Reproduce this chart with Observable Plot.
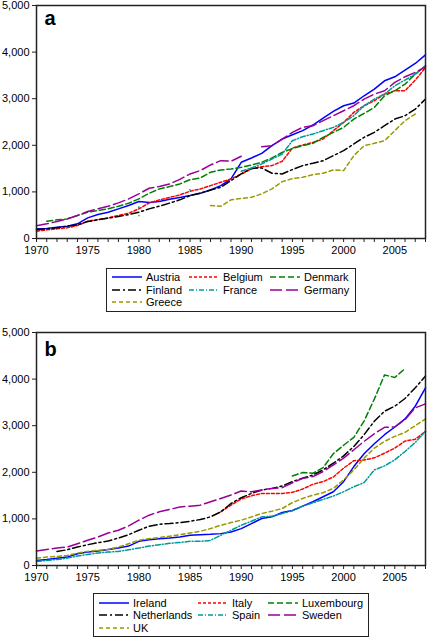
<!DOCTYPE html>
<html><head><meta charset="utf-8">
<script src="https://cdn.jsdelivr.net/npm/d3@7"></script>
<script src="https://cdn.jsdelivr.net/npm/@observablehq/plot@0.6"></script>
<style>
body{margin:0;background:#fff;font-family:"Liberation Sans",Arial,sans-serif;}
#wrap{position:relative;width:427px;height:637px;overflow:hidden;background:#fff}
#wrap svg.plot{position:absolute;left:0}
.legend{position:absolute;box-sizing:border-box;border:1px solid #222;background:#fff;font-size:11px;color:#000}
.item{position:absolute;height:12px;display:flex;align-items:center;white-space:nowrap}
.item span{margin-left:4px}
</style></head><body><div id="wrap"></div><script>
const years = d3.range(1970, 2009);
const xTickLabels = [1970, 1975, 1980, 1985, 1990, 1995, 2000, 2005];
const yTicks = [0, 1000, 2000, 3000, 4000, 5000];

// Panel a
const namesA = ["Austria", "Belgium", "Denmark", "Finland", "France", "Germany", "Greece"];
const austria = [207,215,243,264,315,443,514,564,636,707, 793,771,793,840,880,921,971,1042,1135,1278, 1635,1728,1828,1992,2135,2225,2314,2435,2585,2727, 2849,2906,3063,3206,3384,3470,3613,3756,3941];
const belgium = [157,186,207,229,279,371,407,443,493,543, 636,764,829,880,935,1014,1064,1135,1207,1278, 1385,1492,1542,1564,1657,1942,2006,2063,2135,2314, 2492,2706,2849,2956,3099,3170,3170,3399,3670];
const denmark = [null,371,400,421,493,564,600,636,693,757, 850,971,1064,1114,1171,1264,1300,1421,1471,1492, 1528,1578,1635,1728,1849,1930,1992,2042,2171,2278, 2385,2563,2685,2813,3063,3170,3313,3527,3706];
const finland = [186,207,229,264,293,364,400,436,471,514, 564,636,693,760,830,921,971,1042,1100,1242, 1385,1507,1514,1400,1385,1480,1564,1614,1671,1778, 1885,2028,2171,2278,2420,2563,2635,2777,2992];
const france  = [null,null,null,null,null,null,null,null,null,null, 671,null,null,null,null,1042,null,null,null,null, 1442,1514,1600,1707,1814,2099,2185,2242,2314,2385, 2492,2635,2849,2992,3099,3277,3399,3527,3706];
const germany = [272,315,364,421,493,578,636,693,764,850, 957,1078,1114,1171,1270,1385,1457,1578,1671,1657, 1764,null,1971,1992,2135,2278,2385,2420,2528,2635, 2742,2849,2992,3099,3170,3349,3470,3563,3684];
const greece  = [null,null,null,null,null,null,null,null,null,null, 493,null,null,null,null,null,null,707,690,830, 860,885,957,1064,1221,1285,1314,1371,1400,1471, 1457,1778,1992,2042,2099,2314,2528,2670,null];

// Panel b
const namesB = ["Ireland", "Italy", "Luxembourg", "Netherlands", "Spain", "Sweden", "UK"];
const ireland = [108,130,158,180,252,288,309,345,374,417, 518,554,576,590,612,648,662,669,684,720, 792,900,1008,1044,1137,1180,1274,1367,1475,1583, 1799,2123,2397,2613,2807,2972,3145,3419,3814];
const italy   = [null,null,null,null,null,null,null,null,null,null, null,null,null,null,null,null,null,null,1151,1295, 1425,1497,1547,1547,1547,1570,1640,1742,1800,1900, 2090,2250,2265,2310,2410,2520,2670,2710,2880];
const luxembourg = [null,null,null,null,null,null,null,null,null,null, null,null,null,null,null,null,null,null,null,null, null,null,null,null,null,1922,1994,1979,2100,2400, 2580,2750,3100,3570,4090,4035,4225,null,null];
const netherlands = [null,null,302,338,396,446,489,525,590,662, 756,842,885,900,920,950,986,1044,1151,1331, 1454,1547,1619,1655,1706,1800,1871,1943,2051,2195, 2353,2555,2807,3095,3311,3419,3584,3814,4066];
const spain   = [86,108,130,158,202,238,266,288,302,338, 374,417,446,475,495,518,518,540,648,756, 864,950,1044,1058,1116,1175,1274,1346,1418,1490, 1583,1691,1778,2051,2137,2267,2447,2641,2879];
const sweden  = [309,345,374,396,468,540,612,698,756,849, 972,1080,1152,1202,1256,1274,1295,1367,1439,1511, 1598,1583,1619,1655,1670,1775,1871,1907,2015,2159, 2303,2483,2663,2828,2965,2972,3131,3383,3469];
const uk      = [158,180,194,216,266,302,324,345,396,468, 540,576,600,630,660,698,734,792,864,921, 972,1044,1116,1166,1223,1350,1439,1511,1562,1655, 1835,2051,2303,2519,2663,2771,2857,3001,3145];

const colors = ["#0000ff", "#ff0000", "#008000", "#000000", "#009999", "#990099", "#999900"];
const dashes = [null, "3,2", "6,3", "8,3,2,3", "5,2,1,2", "12,4", "4,3"];

const font = '"Liberation Sans", Arial, sans-serif';
const wrap = document.getElementById("wrap");

function panel(names, arrays, letter, top, marginTop, height, letterDy) {
  const series = names.map((n, i) => years.map((y, j) => ({country: n, year: y, value: arrays[i][j]})));
  const isolated = series.flatMap(s => s.filter((d, j) => d.value != null &&
    (j === 0 || s[j - 1].value == null) && (j === s.length - 1 || s[j + 1].value == null)));
  const chart = Plot.plot({
    width: 427, height, marginTop, marginBottom: height - marginTop - (238 - 5) , marginLeft: 36, marginRight: 2,
    style: {fontFamily: font, fontSize: "11px", color: "#000", background: "transparent", overflow: "visible"},
    x: {domain: [1970, 2008]},
    y: {domain: [0, 5000]},
    marks: [
      Plot.axisX({ticks: years, tickSize: 4, tickPadding: 4, tickFormat: d => xTickLabels.includes(d) ? String(d) : "", label: null, stroke: "#222"}),
      Plot.axisY({ticks: yTicks, tickSize: 4, tickPadding: 3, tickFormat: d3.format(","), label: null, stroke: "#222"}),
      ...series.map((s, i) => Plot.line(s, {x: "year", y: "value", stroke: colors[i], strokeWidth: 1.5, strokeDasharray: dashes[i] || undefined})),
      Plot.dot(isolated, {x: "year", y: "value", r: 0.9, fill: d => colors[names.indexOf(d.country)], stroke: null}),
      Plot.frame({stroke: "#222", strokeWidth: 1.5}),
      Plot.text([letter], {frameAnchor: "top-left", dx: 8, dy: letterDy, fontSize: 20, fontWeight: "bold", fill: "#000"})
    ]
  });
  chart.classList.add("plot");
  chart.style.position = "absolute";
  chart.style.top = top + "px";
  wrap.appendChild(chart);
}

function legend(names, left, top, width, cols, rows) {
  const box = document.createElement("div");
  box.className = "legend";
  Object.assign(box.style, {left: left + "px", top: top + "px", width: width + "px", height: "44px"});
  names.forEach((n, i) => {
    const it = document.createElement("div");
    it.className = "item";
    it.style.left = cols[i % 3] + "px";
    it.style.top = (rows[Math.floor(i / 3)] - 6) + "px";
    const dash = dashes[i] ? `stroke-dasharray="${dashes[i]}"` : "";
    it.innerHTML = `<svg width="30" height="6"><line x1="0" x2="30" y1="3" y2="3" stroke="${colors[i]}" stroke-width="1.5" ${dash}/></svg><span>${n}</span>`;
    box.appendChild(it);
  });
  wrap.appendChild(box);
}

panel(namesA, [austria, belgium, denmark, finland, france, germany, greece], "a", 0, 5, 262, 5);
legend(namesA, 106, 268, 250, [5, 82, 163], [8, 20.7, 33.4]);
panel(namesB, [ireland, italy, luxembourg, netherlands, spain, sweden, uk], "b", 320, 12, 267, 9);
legend(namesB, 93, 593, 276, [5, 104, 174], [8.5, 20.8, 33.8]);
</script></body></html>
